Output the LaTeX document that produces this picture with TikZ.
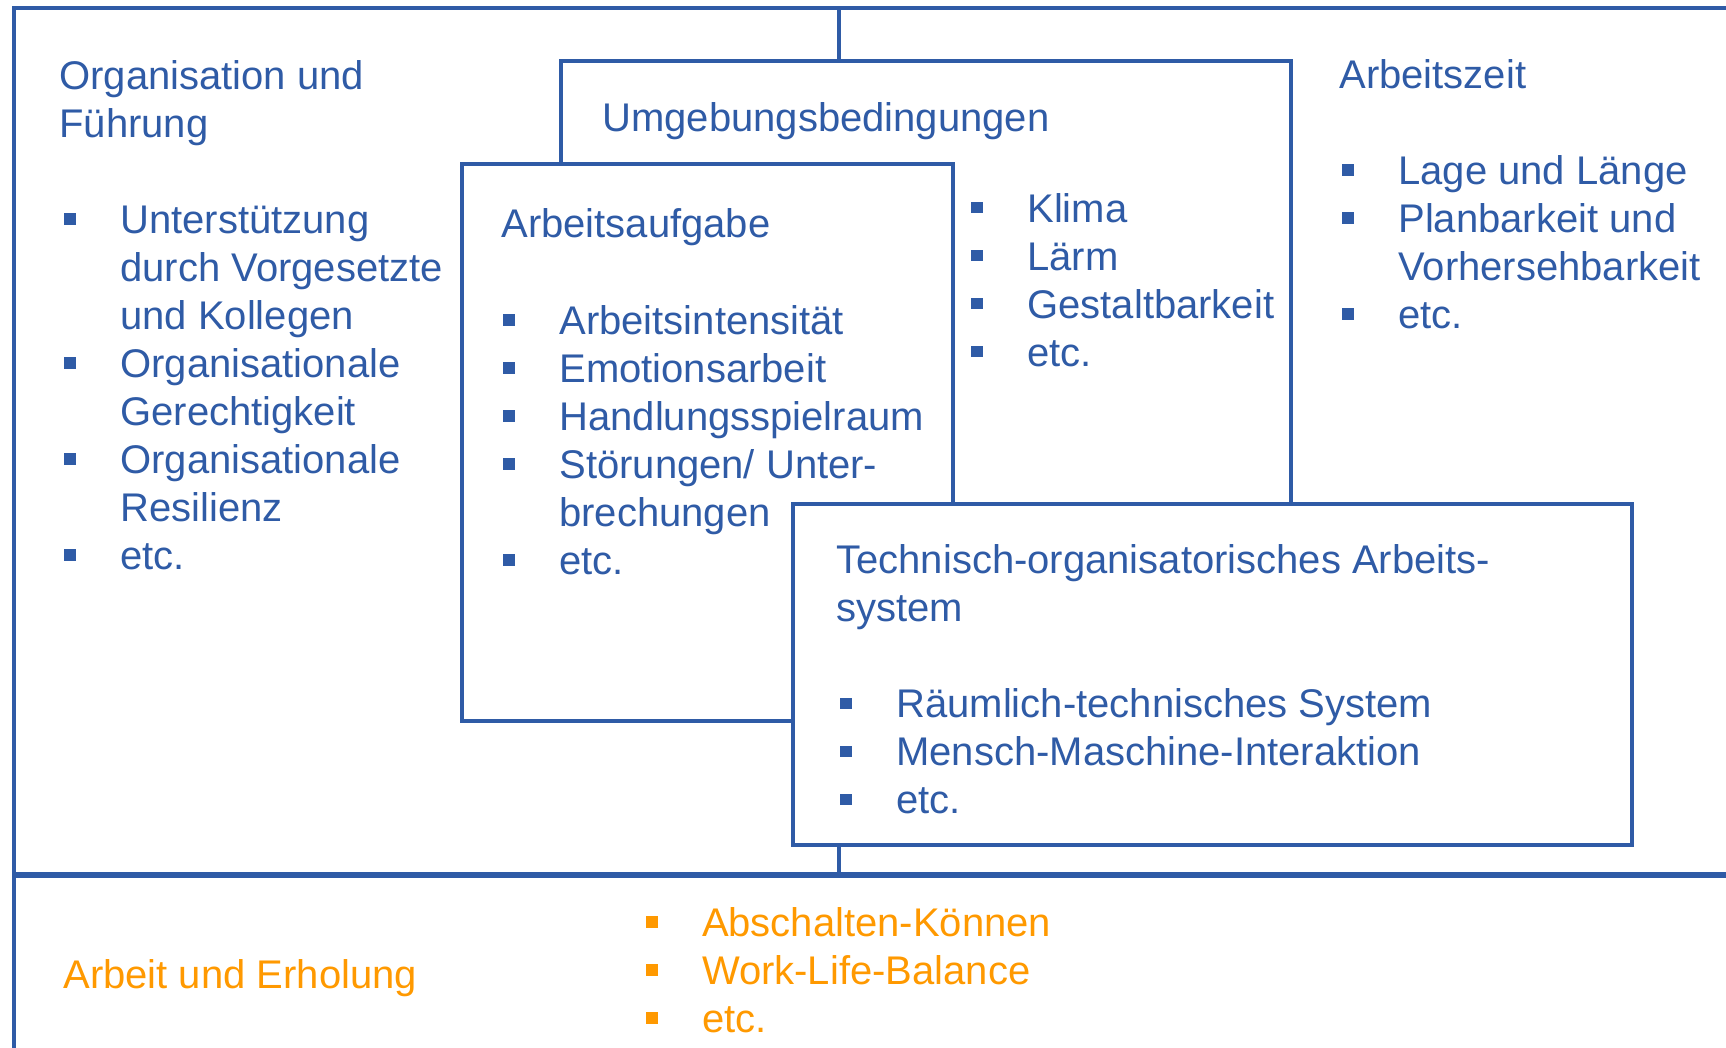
\documentclass[tikz,border=0pt]{standalone}
\usepackage{fontspec}
\setmainfont{Liberation Sans}
\definecolor{fbblue}{RGB}{47,91,166}
\definecolor{fborange}{RGB}{255,153,0}
\newcommand{\topline}{\rule{0pt}{20pt}}
\newcommand{\blt}{\makebox[28pt][l]{\raisebox{4.3pt}{\rule{5.8pt}{5.8pt}}}}
\newcommand{\cont}{\hspace*{28pt}}
\tikzset{
  frame/.style = {draw=fbblue, line width=2.2pt},
  field/.style = {frame, fill=white},
  txt/.style = {inner sep=0pt, text=fbblue, font=\fontsize{20}{24}\selectfont, align=left},
  block/.style = {txt, anchor=north west},
  head/.style = {txt, anchor=base west},
}
\begin{document}
\begin{tikzpicture}[x=0.5pt,y=-0.5pt]
\useasboundingbox (0,0) rectangle (1726,1048);
\clip (0,0) rectangle (1726,1048);
% outer frame
\draw[frame] (14,8) rectangle (1780,1100);
\draw[frame, line width=2.8pt] (14,875) -- (1780,875);
\coordinate (midtop) at (839,8);
\coordinate (midbot) at (839,875);
\draw[fbblue, line width=1.6pt] (midtop) -- (midbot);
% boxes, back to front
\draw[field] (561,61) rectangle (1291,600);
\draw[field] (462,164) rectangle (953,721);
\draw[field] (793,504) rectangle (1632,845);

% Organisation und Fuehrung
\node[block] (orgtitle) at (59,49) {\topline Organisation und\\Führung};
\node[block] (orglist) at (64,193) {\topline\blt Unterstützung\\
  \cont durch Vorgesetzte\\
  \cont und Kollegen\\
  \blt Organisationale\\
  \cont Gerechtigkeit\\
  \blt Organisationale\\
  \cont Resilienz\\
  \blt etc.};

% Umgebungsbedingungen
\node[head] (umgtitle) at (602,131.7) {Umgebungsbedingungen};
\node[block] (umglist) at (971,181.7) {\topline\blt Klima\\
  \blt Lärm\\
  \blt Gestaltbarkeit\\
  \blt etc.};

% Arbeitsaufgabe
\node[head] (auftitle) at (501,237.7) {Arbeitsaufgabe};
\node[block] (auflist) at (503,294) {\topline\blt Arbeitsintensität\\
  \blt Emotionsarbeit\\
  \blt Handlungsspielraum\\
  \blt Störungen/ Unter-\\
  \cont brechungen\\
  \blt etc.};

% Arbeitszeit
\node[head] (zeittitle) at (1339,88.3) {Arbeitszeit};
\node[block] (zeitlist) at (1342,144.3) {\topline\blt Lage und Länge\\
  \blt Planbarkeit und\\
  \cont Vorhersehbarkeit\\
  \blt etc.};

% Technisch-organisatorisches Arbeitssystem
\node[block] (tostitle) at (836,533.3) {\topline Technisch-organisatorisches Arbeits-\\system};
\node[block] (toslist) at (840,677.3) {\topline\blt Räumlich-technisches System\\
  \blt Mensch-Maschine-Interaktion\\
  \blt etc.};

% Arbeit und Erholung
\node[head, text=fborange] (erhtitle) at (63,988.3) {Arbeit und Erholung};
\node[block, text=fborange] (erhlist) at (645.6,896) {\topline\blt Abschalten-Können\\
  \blt Work-Life-Balance\\
  \blt etc.};
\end{tikzpicture}
\end{document}
